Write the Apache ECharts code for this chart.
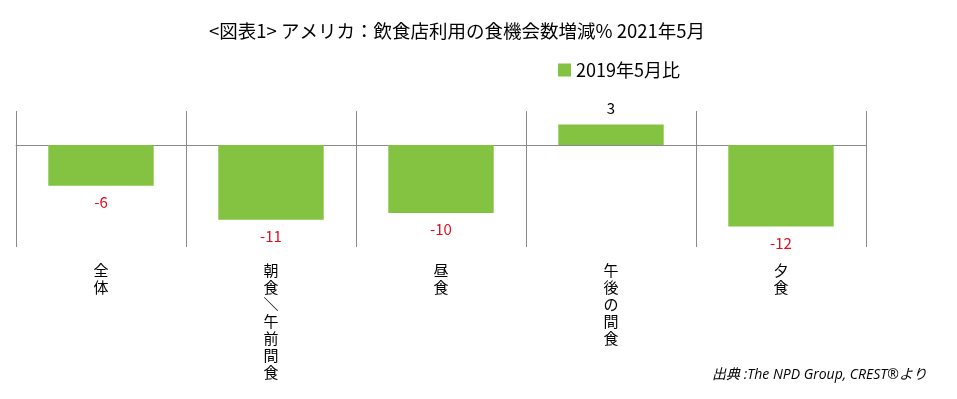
<!DOCTYPE html>
<html><head><meta charset="utf-8">
<script src="https://cdn.jsdelivr.net/npm/echarts@6/dist/echarts.min.js"></script>
<style>html,body{margin:0;padding:0;background:#fff}#c{width:957px;height:399px}</style>
</head><body><div id="c"></div>
<script>
const categories = ['全体', '朝食/午前間食', '昼食', '午後の間食', '夕食'];
const values = [-6, -11, -10, 3, -12];
const seriesName = '2019年5月比';
const titleText = '<図表1> アメリカ：飲食店利用の食機会数増減% 2021年5月';
const sourceText = '出典 :The NPD Group, CREST®より';

const FONT = '"Noto Sans CJK JP", "Noto Sans", sans-serif';
const chart = echarts.init(document.getElementById('c'));
const vertical = s => s.split('').map(ch => ch === '/' ? '＼' : ch).join('\n');

chart.setOption({
  animation: false,
  textStyle: { fontFamily: FONT },
  title: {
    text: titleText,
    left: 452, top: 17, textAlign: 'center',
    textStyle: { fontFamily: FONT, fontSize: 18.5, fontWeight: 'normal', color: '#000' }
  },
  legend: {
    data: [seriesName],
    left: 553, top: 56,
    icon: 'rect', itemWidth: 13, itemHeight: 13, itemGap: 6,
    textStyle: { fontFamily: FONT, fontSize: 18, color: '#000' }
  },
  graphic: [{
    type: 'text', right: 30, top: 368,
    style: { text: sourceText, font: 'italic 14px "Open Sans", "Noto Sans CJK JP", sans-serif', fill: '#000' }
  }],
  grid: { left: 16, right: 91, top: 111, bottom: 152 },
  xAxis: [{
    type: 'category', data: categories,
    axisLine: { show: true, onZero: true, lineStyle: { color: '#8a8a8a', width: 1 } },
    axisTick: { show: false },
    axisLabel: { show: false },
    splitLine: { show: true, lineStyle: { color: '#8a8a8a', width: 1 } }
  }, {
    type: 'category', data: categories, position: 'bottom',
    axisLine: { show: false, onZero: false },
    axisTick: { show: false },
    splitLine: { show: false },
    axisLabel: {
      margin: 15, interval: 0, color: '#000', fontSize: 15, lineHeight: 17,
      fontFamily: FONT, verticalAlign: 'top',
      formatter: v => vertical(v)
    }
  }],
  yAxis: {
    type: 'value', min: -15, max: 5, interval: 5, show: false,
    splitLine: { show: false }
  },
  series: [{
    name: seriesName, type: 'bar', barWidth: '62%',
    itemStyle: { color: '#84C241' },
    data: values.map(v => ({
      value: v,
      label: { position: v < 0 ? 'bottom' : 'top', color: v < 0 ? '#e3101c' : '#000' }
    })),
    label: { show: true, fontSize: 15, distance: 9, fontFamily: FONT }
  }]
});
</script></body></html>
